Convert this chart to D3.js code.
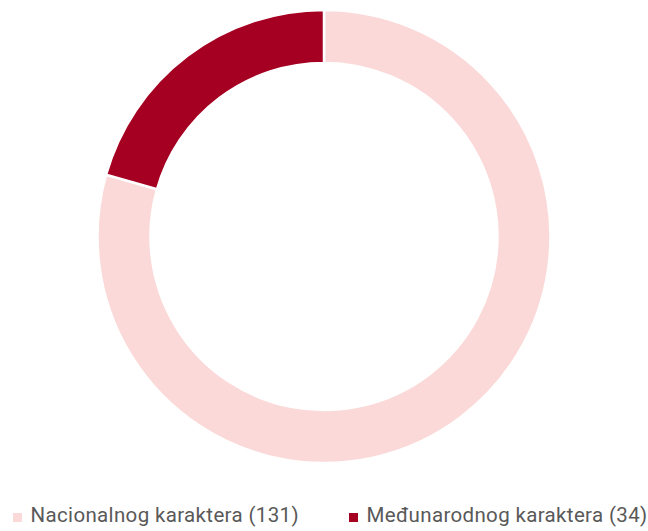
<!DOCTYPE html>
<html lang="hr">
<head>
<meta charset="utf-8">
<script src="https://d3js.org/d3.v7.min.js"></script>
<style>
  body { margin: 0; background: #fff; }
</style>
</head>
<body>
<script>
  var width = 648,
      height = 531;

  // data
  var categories = ['Nacionalnog karaktera', 'Međunarodnog karaktera'];
  var values = [131, 34];
  var colours = ['#fad9d8', '#a50022'];

  var cx = 324, cy = 236.5,
      outerR = 226.5, innerR = 173.5;

  var svg = d3.select('body')
    .append('svg')
    .attr('width', width)
    .attr('height', height);

  var pie = d3.pie().sort(null).value(function(d) { return d; });
  var arc = d3.arc().innerRadius(innerR).outerRadius(outerR);

  svg.append('g')
    .attr('transform', 'translate(' + cx + ',' + cy + ')')
    .selectAll('path')
    .data(pie(values))
    .join('path')
    .attr('d', arc)
    .attr('fill', function(d, i) { return colours[i]; })
    .attr('stroke', '#fff')
    .attr('stroke-width', 2.5);

  // legend
  var legendX = [13, 349];
  var legend = svg.append('g')
    .selectAll('g')
    .data(categories)
    .join('g')
    .attr('transform', function(d, i) { return 'translate(' + legendX[i] + ',522)'; });

  legend.append('rect')
    .attr('x', 0).attr('y', -9)
    .attr('width', 9).attr('height', 9)
    .attr('fill', function(d, i) { return colours[i]; });

  legend.append('text')
    .attr('x', 17.5)
    .attr('y', 0)
    .attr('font-family', 'Roboto')
    .attr('font-size', 20.5)
    .attr('letter-spacing', 0.35)
    .attr('fill', '#595959')
    .text(function(d, i) { return d + ' (' + values[i] + ')'; });
</script>
</body>
</html>
